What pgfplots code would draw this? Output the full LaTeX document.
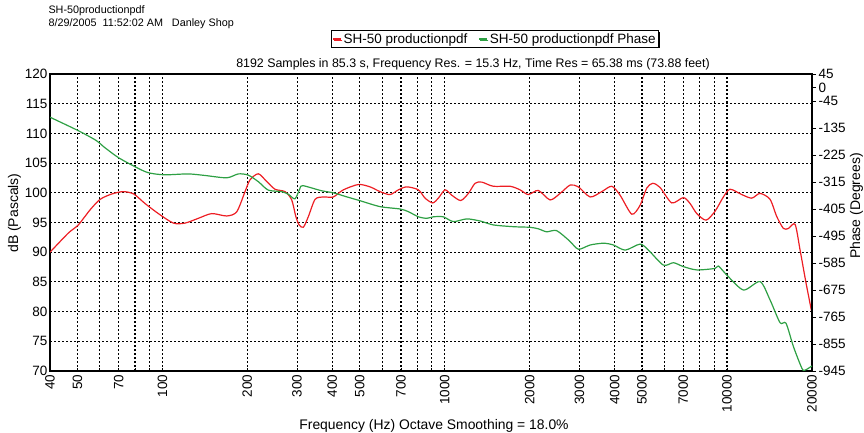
\documentclass[border=0pt]{standalone}
\usepackage{fontspec}
\setmainfont{Liberation Sans}
\usepackage{pgfplots}
\pgfplotsset{compat=1.18}
\usetikzlibrary{shadows}
\definecolor{cred}{RGB}{237,30,36}
\definecolor{cgreen}{RGB}{46,160,68}
\newcommand\fs{\fontsize{13.5}{16}\selectfont}
\begin{document}
\begin{tikzpicture}
\useasboundingbox (0pt,0pt) rectangle (864pt,432pt);
\begin{axis}[
  at={(50pt,61pt)}, anchor=south west, scale only axis,
  width=762pt, height=297pt,
  xmode=log, xmin=40, xmax=20000, ymin=70, ymax=120,
  axis line style={black, line width=1.2pt},
  xtick={40,50,70,100,200,300,400,500,700,1000,2000,3000,4000,5000,7000,10000,20000},
  xticklabels={40,50,70,100,200,300,400,500,700,1000,2000,3000,4000,5000,7000,10000,20000},
  minor xtick={60,80,90,600,800,900,6000,8000,9000},
  ytick={70,75,...,120},
  xtick pos=bottom, ytick pos=left,
  ytick style={draw=none},
  xtick style={black, line width=0.6pt},
  major tick length=3pt, minor tick length=3pt,
  tick align=inside,
  grid=both,
  grid style={black, line width=1.1pt, dash pattern=on 2pt off 2pt},
  minor grid style={black, line width=1.1pt, dash pattern=on 2pt off 2pt},
  /pgf/number format/assume math mode=true,
  ticklabel style={font=\fs},
  xticklabel style={rotate=90, anchor=east},
  yticklabel style={xshift=1pt},
  legend columns=2,
  legend style={at={(axis description cs:0.5840,1.118)}, anchor=center,
    draw=black, line width=0.7pt, fill=white, font=\fs,
    inner xsep=1pt, inner ysep=0.5pt,
    drop shadow={shadow xshift=1.3pt, shadow yshift=-1.3pt, fill=black, opacity=1},
    /tikz/every even column/.append style={column sep=9pt}},
  legend image code/.code={\draw[#1, line width=1.3pt] (0pt,0pt) -- (8pt,0pt);},
]
\addplot[cred, line width=1.2pt, smooth, tension=0.45] coordinates {
(40,90.0) (46.4,93.2) (50.4,94.6) (55.4,97.1) (60.2,98.9) (66.2,99.8) (72.7,100.2)
(79.2,99.8) (86.8,98.2) (96.8,96.5) (109.4,94.9) (120.3,94.9) (134,95.7) (149.6,96.5)
(169,96.1) (183.4,96.8) (196.3,100.2) (204.5,102.2) (218.8,103.2) (234.2,101.9)
(250.6,100.6) (272,100.2) (287.2,98.8) (297,96.0) (305,94.6) (315.8,94.2) (329,96.0)
(347.5,98.9) (371.8,99.3) (403,99.3) (437.6,100.5) (494.7,101.4) (543.9,101.0)
(590,100.2) (640,99.7) (685.5,100.5) (734,101.0) (807,100.5) (852,99.1) (907,98.3)
(949.6,99.1) (1003,100.5) (1059,99.6) (1140,98.7) (1213,99.9) (1281,101.6) (1353,101.8)
(1487,101.1) (1705,101.1) (1849,100.5) (1978,99.7) (2146,100.4) (2362,98.8) (2563,99.9)
(2781,101.3) (2975,101.0) (3274,99.3) (3600,100.2) (3906,101.1) (4180,99.6) (4599,96.4)
(4920,97.9) (5197,100.8) (5459,101.6) (5792,100.9) (6372,98.3) (7003,99.2) (7397,98.2)
(7815,96.5) (8428,95.4) (9070,96.9) (9706,99.3) (10250,100.6) (11280,99.7) (12230,99.1)
(13090,99.9) (14200,98.9) (15000,96.0) (15840,94.0) (16500,94.0) (17420,94.7)
(18140,90.4) (19050,84.8) (20000,79.7)
};
\addlegendentry{SH-50 productionpdf}
\addlegendimage{cgreen, line width=1.2pt}
\addlegendentry{SH-50 productionpdf Phase}
\end{axis}
\begin{axis}[
  at={(50pt,61pt)}, anchor=south west, scale only axis,
  width=762pt, height=297pt,
  xmode=log, xmin=40, xmax=20000, ymin=-945, ymax=45,
  axis x line=none, axis y line*=right,
  axis line style={black, line width=1.2pt},
  ytick={45,0,-45,-135,-225,-315,-405,-495,-585,-675,-765,-855,-945},
  ytick style={black, line width=0.6pt},
  major tick length=4pt, tick align=outside,
  /pgf/number format/assume math mode=true,
  yticklabel style={font=\fs, anchor=west, xshift=-1pt},
]
\addplot[cgreen, line width=1.2pt, smooth, tension=0.45] coordinates {
(40,-99) (50.4,-144) (58.4,-177) (61.9,-197) (69.7,-233) (80,-264) (89.1,-284)
(101.9,-291) (123.1,-288) (141,-293) (169,-301) (185.8,-288) (201.5,-292) (218.8,-314)
(237.2,-342) (264.6,-347) (279.5,-356) (295,-371) (307,-337) (314,-327) (366,-344)
(403,-351) (448,-364) (500,-377) (590,-397) (695,-405) (744,-414) (807,-431) (864,-436)
(912,-431) (988,-431) (1073,-447) (1197,-438) (1335,-445) (1487,-458) (1752,-464)
(2005,-466) (2146,-471) (2297,-481) (2490,-477) (2765,-511) (2975,-539) (3274,-525)
(3652,-519) (3961,-525) (4360,-542) (4920,-522) (5267,-542) (5950,-592) (6461,-584)
(7003,-597) (7815,-608) (9070,-603) (9320,-595) (9980,-625) (11430,-675) (13090,-647)
(14200,-708) (15410,-784) (16180,-786) (17190,-864) (18420,-936) (18910,-942) (20000,-928)
};
\end{axis}
\node[anchor=base west, font=\fontsize{10.8}{12}\selectfont] at (45pt,418pt) {SH-50productionpdf};
\node[anchor=base west, font=\fontsize{10.8}{12}\selectfont] at (45pt,405pt) {8/29/2005\ \ 11:52:02 AM\ \ \ Danley Shop};
\node[anchor=base, font=\fontsize{12.4}{14}\selectfont] at (473pt,364pt) {8192 Samples in 85.3 s, Frequency Res. = 15.3 Hz, Time Res = 65.38 ms (73.88 feet)};
\node[anchor=base, font=\fontsize{13.9}{16}\selectfont] at (434pt,3pt) {Frequency (Hz) Octave Smoothing = 18.0\%};
\node[anchor=base, rotate=90, font=\fontsize{14}{16}\selectfont] at (18pt,219pt) {dB (Pascals)};
\node[anchor=base, rotate=90, font=\fontsize{14}{16}\selectfont] at (860pt,226pt) {Phase (Degrees)};
\end{tikzpicture}
\end{document}
